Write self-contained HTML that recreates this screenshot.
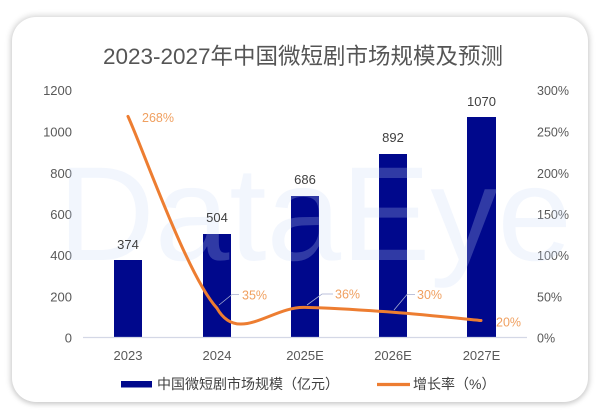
<!DOCTYPE html>
<html>
<head>
<meta charset="utf-8">
<style>
  html,body{margin:0;padding:0;background:#ffffff;}
  body{width:600px;height:414px;overflow:hidden;position:relative;}
  .card{position:absolute;left:12px;top:17px;width:576px;height:385px;border-radius:24px;background:#fff;
        box-shadow:0 0 6px 2px rgba(0,0,0,0.14), 0 2px 5px rgba(0,0,0,0.09);}
  svg{position:absolute;left:0;top:0;}
  text{font-family:"Liberation Sans","Noto Sans CJK SC",sans-serif;}
</style>
</head>
<body>
<div class="card"></div>
<svg width="600" height="414" viewBox="0 0 600 414" xmlns="http://www.w3.org/2000/svg">
  <!-- title -->
  <text x="303" y="64" text-anchor="middle" font-size="22.5" fill="#555555">2023-2027年中国微短剧市场规模及预测</text>

  <!-- left axis labels -->
  <g font-size="13" fill="#595959" text-anchor="end">
    <text x="72" y="95">1200</text>
    <text x="72" y="136.5">1000</text>
    <text x="72" y="178">800</text>
    <text x="72" y="219">600</text>
    <text x="72" y="260">400</text>
    <text x="72" y="301.5">200</text>
    <text x="72" y="342.5">0</text>
  </g>
  <!-- right axis labels -->
  <g font-size="12.5" fill="#595959" text-anchor="start">
    <text x="537" y="95">300%</text>
    <text x="537" y="136.5">250%</text>
    <text x="537" y="178">200%</text>
    <text x="537" y="219">150%</text>
    <text x="537" y="260">100%</text>
    <text x="537" y="301.5">50%</text>
    <text x="537" y="342.5">0%</text>
  </g>

  <!-- bars -->
  <g fill="#00088c">
    <rect x="114" y="260" width="28" height="77"/>
    <rect x="203" y="234" width="28" height="103"/>
    <rect x="291" y="196" width="28" height="141"/>
    <rect x="379" y="154" width="28" height="183"/>
    <rect x="467" y="117" width="29" height="220"/>
  </g>

  <!-- axis line -->
  <line x1="83" y1="337.5" x2="527" y2="337.5" stroke="#d4d8e6" stroke-width="1.2"/>

  <!-- watermark -->
  <text x="58" y="260" font-size="134" fill="rgba(200,216,245,0.24)" font-weight="normal">DataEye</text>

  <!-- bar data labels -->
  <g font-size="13" fill="#404040" text-anchor="middle">
    <text x="128" y="249">374</text>
    <text x="217" y="222">504</text>
    <text x="305" y="184">686</text>
    <text x="393" y="142">892</text>
    <text x="481.5" y="106">1070</text>
  </g>

  <!-- growth line -->
  <path d="M128,116.4 C142.8,148.4 187.5,276.4 217,308.2 C238,345 272,306 305,307.4 C334.3,308.1 363.7,310.1 393,312.3 C422.3,314.5 466.3,319.1 481,320.5"
        fill="none" stroke="#ed7d31" stroke-width="3" stroke-linecap="round"/>

  <!-- leader lines -->
  <g fill="none" stroke="#a6aed0" stroke-width="0.8">
    <polyline points="219,305 232,294.5 239,294.5"/>
    <polyline points="307,305 322,294 333,294"/>
    <polyline points="394,310 407,294.5 415,294.5"/>
  </g>

  <!-- percent labels -->
  <g font-size="12.5" fill="#f0a060">
    <text x="142" y="122">268%</text>
    <text x="242" y="299.5">35%</text>
    <text x="335" y="298.5">36%</text>
    <text x="417" y="299">30%</text>
    <text x="496" y="326.5">20%</text>
  </g>

  <!-- x labels -->
  <g font-size="13" fill="#595959" text-anchor="middle">
    <text x="128" y="360">2023</text>
    <text x="217" y="360">2024</text>
    <text x="305" y="360">2025E</text>
    <text x="393" y="360">2026E</text>
    <text x="481.5" y="360">2027E</text>
  </g>

  <!-- legend -->
  <rect x="121" y="381" width="31" height="6.5" fill="#00088c"/>
  <text x="157" y="389" font-size="14" fill="#404040">中国微短剧市场规模（亿元）</text>
  <line x1="377" y1="384.5" x2="410" y2="384.5" stroke="#ed7d31" stroke-width="3.2"/>
  <text x="413" y="389" font-size="14" fill="#404040">增长率（%）</text>
</svg>
</body>
</html>
